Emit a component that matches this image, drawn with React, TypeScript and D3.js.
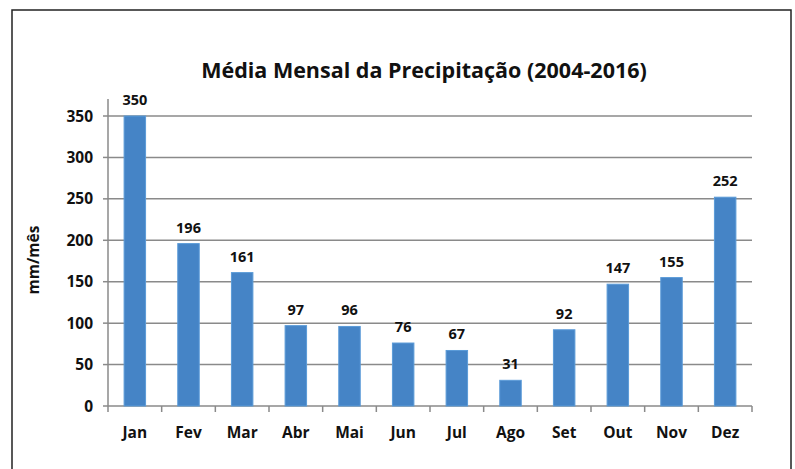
import React from "react";
import * as d3 from "d3";

const months = ["Jan", "Fev", "Mar", "Abr", "Mai", "Jun", "Jul", "Ago", "Set", "Out", "Nov", "Dez"];
const precip = [350, 196, 161, 97, 96, 76, 67, 31, 92, 147, 155, 252];
const yTicks = [0, 50, 100, 150, 200, 250, 300, 350];
const title = "Média Mensal da Precipitação (2004-2016)";
const yLabel = "mm/mês";

export default function App() {
  const W = 795, H = 469;
  const left = 108, right = 752, top = 116, bottom = 406;
  const x = d3.scaleBand<string>().domain(months).range([left, right]).paddingInner(0.6).paddingOuter(0.3);
  const xb = d3.scaleBand<string>().domain(months).range([left, right]);
  const y = d3.scaleLinear().domain([0, 350]).range([bottom, top]);
  const font = "'Open Sans', 'DejaVu Sans', sans-serif";
  return (
    <svg width={W} height={H} style={{ position: "absolute", left: 0, top: 0, background: "#fff" }}>
      <rect x={12} y={10} width={779} height={480} fill="#fff" stroke="#222" strokeWidth={1.5} />
      <text x={424} y={78} textAnchor="middle" fontFamily={font} fontWeight="bold" fontSize={21.5} fill="#111">{title}</text>
      {yTicks.map((t) => (
        <g key={t}>
          <line x1={left} x2={right} y1={y(t)} y2={y(t)} stroke="#8a8a8a" strokeWidth={1.5} />
          <line x1={left - 5} x2={left} y1={y(t)} y2={y(t)} stroke="#8a8a8a" strokeWidth={1.5} />
          <text x={left - 15} y={y(t) + 5.5} textAnchor="end" fontFamily={font} fontWeight="bold" fontSize={15.5} fill="#111">{t}</text>
        </g>
      ))}
      <line x1={left} x2={left} y1={top - 17} y2={bottom} stroke="#8a8a8a" strokeWidth={1.5} />
      {months.map((m) => (
        <line key={"tk" + m} x1={xb(m)! + xb.bandwidth()} x2={xb(m)! + xb.bandwidth()} y1={bottom} y2={bottom + 6} stroke="#8a8a8a" strokeWidth={1.5} />
      ))}
      <line x1={left} x2={left} y1={bottom} y2={bottom + 6} stroke="#8a8a8a" strokeWidth={1.5} />
      {months.map((m, i) => (
        <g key={m}>
          <rect x={x(m)!} y={y(precip[i])} width={x.bandwidth()} height={bottom - y(precip[i])} fill="#4584c6" stroke="#5b9bd8" strokeWidth={1} />
          <text x={x(m)! + x.bandwidth() / 2} y={y(precip[i]) - 11} textAnchor="middle" fontFamily={font} fontWeight="bold" fontSize={14.5} fill="#111">{precip[i]}</text>
          <text x={xb(m)! + xb.bandwidth() / 2} y={438} textAnchor="middle" fontFamily={font} fontWeight="bold" fontSize={15.5} fill="#111">{m}</text>
        </g>
      ))}
      <text transform={`translate(39,${260}) rotate(-90)`} textAnchor="middle" fontFamily={font} fontWeight="bold" fontSize={15.5} fill="#111">{yLabel}</text>
    </svg>
  );
}
